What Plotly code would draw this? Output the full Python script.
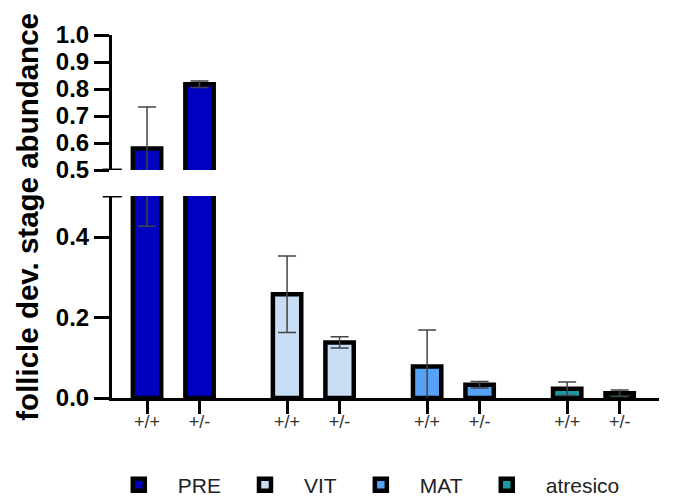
import plotly.graph_objects as go

stages = ["PRE", "VIT", "MAT", "atresico"]
genotypes = ["+/+", "+/-"]
colors = ["#0000C0", "#C9DDF5", "#56A2F7", "#1A9AA5"]
means = {
    "PRE": [0.58, 0.818],
    "VIT": [0.258, 0.138],
    "MAT": [0.078, 0.033],
    "atresico": [0.023, 0.012],
}
sds = {
    "PRE": [0.153, 0.012],
    "VIT": [0.095, 0.014],
    "MAT": [0.091, 0.008],
    "atresico": [0.017, 0.008],
}
group_step = 2.667
upper_ticks = [0.5, 0.6, 0.7, 0.8, 0.9, 1.0]
lower_ticks = [0.0, 0.2, 0.4]

FONT = "Liberation Sans, Arial, sans-serif"

fig = go.Figure()
tickvals = []
ticktext = []
for i, st in enumerate(stages):
    xs = [i * group_step, i * group_step + 1]
    tickvals += xs
    ticktext += genotypes
    for yax, show in (("y", True), ("y2", False)):
        fig.add_trace(go.Bar(
            x=xs, y=means[st], name=st, yaxis=yax, showlegend=show,
            width=0.54,
            marker=dict(color=colors[i], line=dict(color="black", width=4.5)),
            error_y=dict(type="data", array=sds[st], color="#444444",
                         thickness=1.5, width=9),
        ))

fig.update_layout(
    width=680, height=489,
    margin=dict(l=104, r=29, t=27, b=99, autoexpand=False),
    plot_bgcolor="white", paper_bgcolor="white",
    barmode="overlay",
    showlegend=True,
    legend=dict(orientation="h", x=0.135, xanchor="left", xref="container",
                y=-0.24, yanchor="middle", yref="paper",
                bgcolor="rgba(0,0,0,0)",
                font=dict(family=FONT, size=21, color="#222222"),
                itemwidth=68, traceorder="normal"),
    xaxis=dict(range=[-0.667, 9.75], tickvals=tickvals, ticktext=ticktext,
               showline=True, linecolor="black", linewidth=3,
               ticks="outside", ticklen=13, tickwidth=3, tickcolor="black",
               ticklabelstandoff=-8,
               tickfont=dict(family=FONT, size=18, color="#333333"),
               showgrid=False, zeroline=False, anchor="y", automargin=False),
    yaxis=dict(domain=[0, 0.5565], range=[0, 0.502], tickvals=lower_ticks,
               ticktext=[f"{v:.1f}" for v in lower_ticks],
               showline=True, linecolor="black", linewidth=3,
               ticks="outside", ticklen=15, tickwidth=3, tickcolor="black",
               tickfont=dict(family=FONT, size=24, color="black", weight="bold"),
               showgrid=False, zeroline=False, anchor="x", automargin=False),
    yaxis2=dict(domain=[0.628, 1], range=[0.5, 1.0], tickvals=upper_ticks,
                ticktext=[f"{v:.1f}" for v in upper_ticks],
                showline=True, linecolor="black", linewidth=3,
                ticks="outside", ticklen=15, tickwidth=3, tickcolor="black",
                tickfont=dict(family=FONT, size=24, color="black", weight="bold"),
                showgrid=False, zeroline=False, anchor="x", automargin=False),
)

# axis break marks
fig.add_shape(type="line", xref="paper", yref="y2", x0=-0.017, x1=0.018, y0=0.5, y1=0.5,
              line=dict(color="black", width=3))
fig.add_shape(type="line", xref="paper", yref="y", x0=-0.017, x1=0.018, y0=0.502, y1=0.502,
              line=dict(color="black", width=3))

fig.add_annotation(text="follicle dev. stage abundance", xref="paper", yref="paper",
                   x=-0.155, y=0.5, xanchor="center", yanchor="middle",
                   textangle=-90, showarrow=False,
                   font=dict(family=FONT, size=29.5, color="black", weight="bold"))

fig.write_html("out.html")
